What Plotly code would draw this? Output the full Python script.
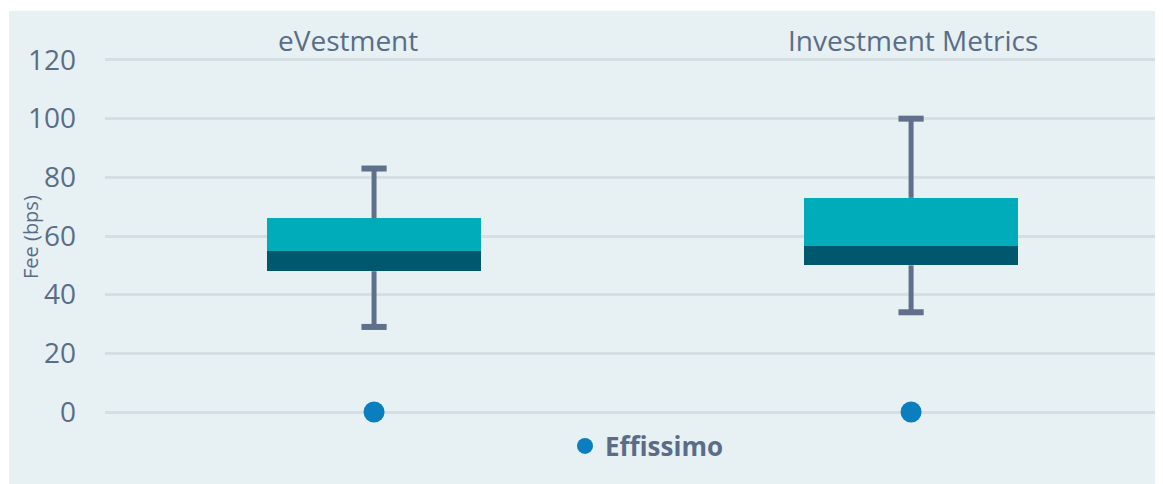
import plotly.graph_objects as go

# ---- data ----
categories = ["eVestment", "Investment Metrics"]
whisker_min = [29, 34]
q1 = [48, 50]
median = [55, 56.5]
q3 = [66, 73]
whisker_max = [83, 100]
effissimo = [0, 0]
y_ticks = [0, 20, 40, 60, 80, 100, 120]

# ---- styles ----
PANEL = "#E7F0F3"
GRID = "#D5DEE2"
TEXT = "#5A6D87"
TEAL = "#00ACBA"
DARK = "#00586F"
WHISK = "#5F718A"
DOT = "#0A7EBF"
FONT = "Open Sans"

L, T, B = 97, 50, 54
W, H = 1163, 484
PW = W - L
PH = H - T - B

xpos = list(range(len(categories)))

fig = go.Figure()

# invisible base of the box
fig.add_trace(go.Bar(x=xpos, y=q1, width=0.4, marker=dict(color="rgba(0,0,0,0)", line=dict(width=0)),
                     showlegend=False, hoverinfo="skip"))
# lower part (q1 -> median)
fig.add_trace(go.Bar(x=xpos, y=[m - a for m, a in zip(median, q1)], width=0.4,
                     marker=dict(color=DARK, line=dict(width=0)), showlegend=False))
# upper part (median -> q3)
fig.add_trace(go.Bar(x=xpos, y=[b - m for b, m in zip(q3, median)], width=0.4,
                     marker=dict(color=TEAL, line=dict(width=0)), showlegend=False))

# whisker stems
wx, wy = [], []
for i in xpos:
    wx += [i, i, None, i, i, None]
    wy += [q3[i], whisker_max[i], None, q1[i], whisker_min[i], None]
fig.add_trace(go.Scatter(x=wx, y=wy, mode="lines", line=dict(color=WHISK, width=5),
                         showlegend=False, hoverinfo="skip"))
# whisker caps
fig.add_trace(go.Scatter(x=xpos + xpos, y=whisker_max + whisker_min, mode="markers",
                         marker=dict(symbol="line-ew", size=18, line=dict(color=WHISK, width=6)),
                         showlegend=False, hoverinfo="skip"))

# Effissimo points
fig.add_trace(go.Scatter(x=xpos, y=effissimo, mode="markers", name="Effissimo",
                         marker=dict(color=DOT, size=21)))

# top category labels
shifts = [-26, 2]
for i, c in enumerate(categories):
    fig.add_annotation(x=i, xref="x", y=(H - B - 32) / PH, yref="paper", text=c, showarrow=False,
                       xshift=shifts[i], font=dict(family=FONT, size=28, color=TEXT),
                       xanchor="center", yanchor="middle")

# y axis title
fig.add_annotation(x=(22 - L) / PW, xref="paper", y=(H - B - 229) / PH, yref="paper", text="Fee (bps)",
                   textangle=-90, showarrow=False, font=dict(family=FONT, size=20, color=TEXT),
                   xanchor="center", yanchor="middle")

# panel background
fig.add_shape(type="rect", xref="paper", yref="paper", x0=(1 - L) / PW, x1=1.05,
              y0=-0.3, y1=(H - B - 3) / PH, fillcolor=PANEL, line=dict(width=0), layer="below")

fig.update_layout(
    width=W, height=H,
    margin=dict(l=L, r=0, t=T, b=B),
    paper_bgcolor="white", plot_bgcolor=PANEL,
    barmode="stack", bargap=0,
    font=dict(family=FONT, color=TEXT),
    showlegend=True,
    legend=dict(orientation="h", x=(557 - L) / PW, xanchor="left", y=(H - B - 438) / PH, yanchor="middle",
                bgcolor="rgba(0,0,0,0)",
                font=dict(family=FONT, size=26, color=TEXT, weight="bold")),
    xaxis=dict(range=[-0.501, 1.484], showgrid=False, zeroline=False, showticklabels=False,
               showline=False, fixedrange=True),
    yaxis=dict(range=[-8.86, 120.68], tickvals=y_ticks, showgrid=True, gridcolor=GRID, gridwidth=3,
               zeroline=False, showline=False, ticklabelstandoff=28,
               tickfont=dict(family=FONT, size=28, color=TEXT)),
)

fig.write_html("out.html")
